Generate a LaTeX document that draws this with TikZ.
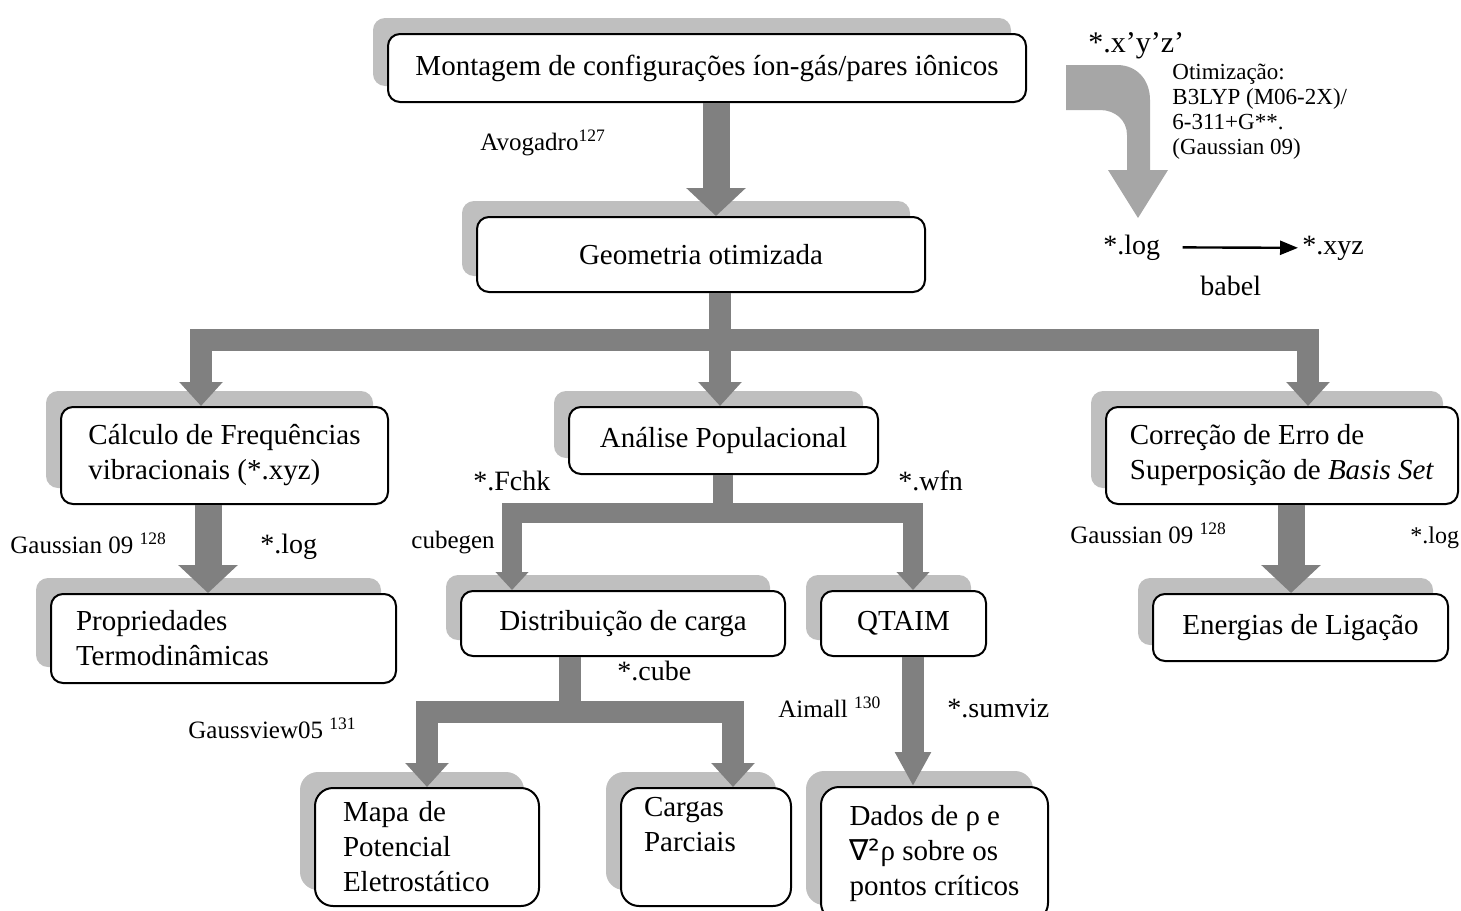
\documentclass[tikz,border=0pt]{standalone}
\usepackage{fontspec}
\setmainfont{Liberation Serif}
\newfontfamily\nablafont{DejaVu Sans}
\usetikzlibrary{arrows.meta}
\usetikzlibrary{shadows}
\definecolor{FlowGray}{RGB}{128,128,128}
\definecolor{ShadowGray}{RGB}{191,191,191}
\definecolor{CurveGray}{RGB}{166,166,166}
\tikzstyle{StepBox}=[rectangle, rounded corners=6pt, draw=black, line width=1pt, fill=white, align=left, inner sep=0pt, font=\fontsize{14.5}{17.5}\selectfont, general shadow={fill=ShadowGray, shadow xshift=-7.5pt, shadow yshift=8pt}]
\tikzstyle{TallBox}=[StepBox, rounded corners=9pt]
\tikzstyle{FileLabel}=[inner sep=0pt, font=\fontsize{14}{16}\selectfont]
\tikzstyle{SoftLabel}=[inner sep=0pt, font=\fontsize{12.5}{14}\selectfont]
\tikzstyle{NoteLabel}=[inner sep=0pt, align=left, font=\fontsize{11.5}{12.5}\selectfont]
\tikzstyle{BigEdge}=[draw=FlowGray, line width=13.5pt, -{Triangle[width=29pt,length=14pt]}]
\tikzstyle{BusLine}=[draw=FlowGray, line width=11pt, line join=miter]
\tikzstyle{BusEdge}=[BusLine, -{Triangle[width=21pt,length=12pt]}]
\tikzstyle{SmallBusEdge}=[BusLine, line width=10pt, -{Triangle[width=16pt,length=9pt]}]
\tikzstyle{ConvEdge}=[draw=black, line width=1.2pt, -{Triangle[width=7pt,length=9pt]}]

\begin{document}
\begin{tikzpicture}[x=0.5pt, y=-0.5pt]
\useasboundingbox (0,0) rectangle (1461,910);

% boxes
\node[StepBox, anchor=north west, minimum width=319pt, minimum height=34pt] (Mont) at (387,33) {Montagem de configurações íon-gás/pares iônicos};
\node[StepBox, anchor=north west, minimum width=224pt, minimum height=37.5pt] (Geom) at (476,216) {Geometria otimizada};
\node[StepBox, anchor=north west, minimum width=163.5pt, minimum height=48.5pt] (Freq) at (60,406) {Cálculo de Frequências\\vibracionais (*.xyz)};
\node[StepBox, anchor=north west, minimum width=154.5pt, minimum height=33.5pt] (Pop) at (568,406) {Análise Populacional};
\node[StepBox, anchor=north west, minimum width=176pt, minimum height=48.5pt] (BSSE) at (1105,406) {Correção de Erro de\\Superposição de \textit{Basis Set}};
\node[StepBox, anchor=north west, text width=147.5pt, inner xsep=12.5pt, minimum height=44.5pt] (Termo) at (50,593) {Propriedades\\Termodinâmicas};
\node[StepBox, anchor=north west, minimum width=162pt, minimum height=32.5pt] (Carga) at (460,590) {Distribuição de carga};
\node[StepBox, anchor=north west, minimum width=82.5pt, minimum height=32.5pt] (Qtaim) at (820,590) {QTAIM};
\node[StepBox, anchor=north west, minimum width=147.5pt, minimum height=33.5pt] (Lig) at (1152,593) {Energias de Ligação};
\node[TallBox, anchor=north west, text width=84pt, inner xsep=14pt, minimum height=59pt] (Mapa) at (314,787) {Mapa de\\Potencial\\Eletrostático};
\node[TallBox, anchor=north west, text width=62pt, inner xsep=11.5pt, minimum height=59pt] (Parc) at (620,787) {Cargas\\Parciais\\\strut};
\node[TallBox, anchor=north west, minimum width=113.5pt, minimum height=67pt] (Dados) at (820,786) {Dados de ρ e\\{\nablafont ∇²}ρ sobre os\\pontos críticos};

% labels
\node[FileLabel, anchor=base west, font=\fontsize{15}{17}\selectfont] (xyzIn) at (1088,52) {*.x’y’z’};
\node[NoteLabel, anchor=north west] (opt) at (1172,64) {Otimização:\\B3LYP (M06-2X)/\\6-311+G**.\\(Gaussian 09)};
\node[FileLabel, anchor=base west] (logB) at (1103,254) {*.log};
\node[FileLabel, anchor=base west] (xyz) at (1302,254) {*.xyz};
\node[FileLabel, anchor=base west] (babel) at (1200,295) {babel};
\node[SoftLabel, anchor=base west] (avo) at (480,150) {Avogadro\textsuperscript{127}};
\node[SoftLabel, anchor=base west] (gau1) at (10,553) {Gaussian 09 \textsuperscript{128}};
\node[FileLabel, anchor=base west] (log1) at (260,553) {*.log};
\node[SoftLabel, anchor=base west] (gau2) at (1070,543) {Gaussian 09 \textsuperscript{128}};
\node[FileLabel, anchor=base west, font=\fontsize{12}{14}\selectfont] (log2) at (1410,543) {*.log};
\node[FileLabel, anchor=base west] (fchk) at (473,490) {*.Fchk};
\node[FileLabel, anchor=base west] (wfn) at (898,490) {*.wfn};
\node[SoftLabel, anchor=base west] (cubegen) at (411,548) {cubegen};
\node[FileLabel, anchor=base west] (cube) at (617,680) {*.cube};
\node[SoftLabel, anchor=base west] (gview) at (188,738) {Gaussview05 \textsuperscript{131}};
\node[SoftLabel, anchor=base west] (aim) at (778,717) {Aimall \textsuperscript{130}};
\node[FileLabel, anchor=base west] (sumviz) at (947,717) {*.sumviz};

% columns and buses
\coordinate (gCol) at (716,0);
\coordinate (gBus) at (720,340);
\coordinate (fCol) at (201,0);
\coordinate (bCol) at (1308,0);
\coordinate (tCol) at (208,0);
\coordinate (lCol) at (1291,0);
\coordinate (pBus) at (723,513);
\coordinate (cCol) at (512,0);
\coordinate (qCol) at (913,0);
\coordinate (dBus) at (570,712);
\coordinate (mCol) at (427,0);
\coordinate (rCol) at (733,0);

% connectors
\draw[BigEdge] (Mont.south -| gCol) -- (Geom.north -| gCol);
\draw[BusLine] (Geom.south -| gBus) -- (gBus);
\draw[BusEdge] (gBus) -| (Freq.north -| fCol);
\draw[BusEdge] (gBus) -- (Pop.north -| gBus);
\draw[BusEdge] (gBus) -| (BSSE.north -| bCol);
\draw[BigEdge] (Freq.south -| tCol) -- (Termo.north -| tCol);
\draw[BigEdge] (BSSE.south -| lCol) -- (Lig.north -| lCol);
\draw[BusLine, line width=10pt] (Pop.south -| pBus) -- (pBus);
\draw[SmallBusEdge] (pBus) -| (Carga.north -| cCol);
\draw[SmallBusEdge] (pBus) -| (Qtaim.north -| qCol);
\draw[BusLine] (Carga.south -| dBus) -- (dBus);
\draw[BusEdge] (dBus) -| (Mapa.north -| mCol);
\draw[BusEdge] (dBus) -| (Parc.north -| rCol);
\draw[BusLine, -{Triangle[width=17pt,length=17pt]}] (Qtaim.south -| qCol) -- (Dados.north -| qCol);

% curved optimisation arrow
\fill[CurveGray] (1066,65) -- (1117,65) .. controls (1137,65) and (1150,80) .. (1150,100) -- (1150,170) -- (1168,170) -- (1138,218) -- (1108,170) -- (1127,170) -- (1127,135) .. controls (1127,120) and (1115,110) .. (1100,110) -- (1066,110) -- cycle;
\draw[ConvEdge, shorten <=11pt, shorten >=2pt] (logB.east) -- (xyz.west);
\end{tikzpicture}
\end{document}
